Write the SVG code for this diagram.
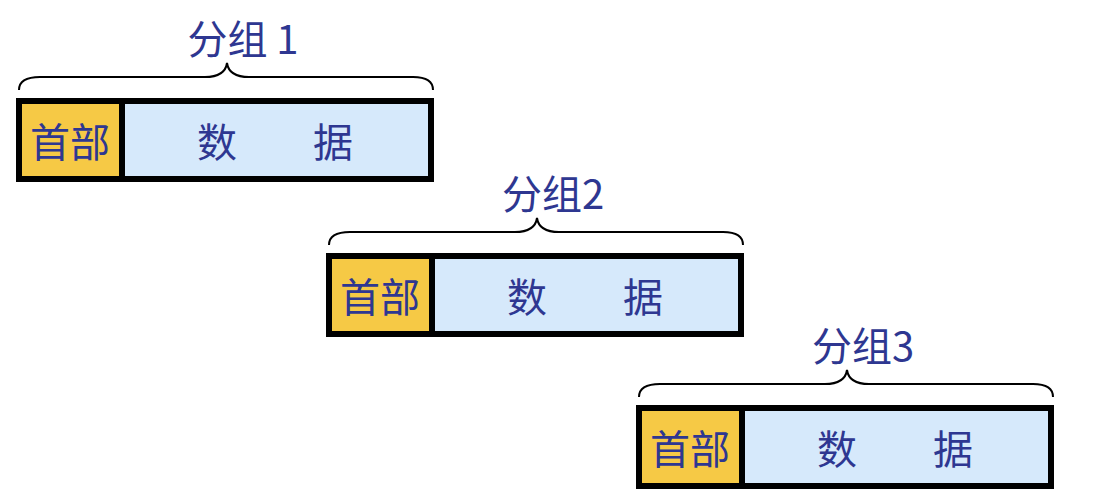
<svg xmlns="http://www.w3.org/2000/svg" width="1106" height="498" viewBox="0 0 1106 498">
<style>
.box{stroke:#000;stroke-width:6}
.hd{fill:#F6C945}
.dt{fill:#D6E9FB}
.brace{fill:none;stroke:#000;stroke-width:2}
text{font-family:"Noto Sans CJK SC","Liberation Sans",sans-serif;fill:#2E3791;font-size:40px;text-anchor:middle}
</style>
<rect width="1106" height="498" fill="#fff"/>
<g id="packet1">
<rect class="dt box" x="19" y="101" width="412" height="78"/>
<rect class="hd box" x="19" y="101" width="103" height="78"/>
<text x="70" y="157">首部</text>
<text x="217" y="157">数</text>
<text x="333" y="157">据</text>
</g>
<g id="brace1">
<path class="brace" d="M19,90 Q19,77 40,77 L205,77 Q225,77 227,63 Q229,77 249,77 L413,77 Q433,77 433,90"/>
<text x="243" y="54">分组 1</text>
</g>
<g id="packet2">
<rect class="dt box" x="329" y="256" width="412" height="78"/>
<rect class="hd box" x="329" y="256" width="103" height="78"/>
<text x="380" y="312">首部</text>
<text x="527" y="312">数</text>
<text x="643" y="312">据</text>
</g>
<g id="brace2">
<path class="brace" d="M329,245 Q329,232 350,232 L515,232 Q535,232 537,218 Q539,232 559,232 L723,232 Q743,232 743,245"/>
<text x="553" y="209">分组2</text>
</g>
<g id="packet3">
<rect class="dt box" x="639" y="408" width="412" height="78"/>
<rect class="hd box" x="639" y="408" width="103" height="78"/>
<text x="690" y="464">首部</text>
<text x="837" y="464">数</text>
<text x="953" y="464">据</text>
</g>
<g id="brace3">
<path class="brace" d="M639,397 Q639,384 660,384 L825,384 Q845,384 847,370 Q849,384 869,384 L1033,384 Q1053,384 1053,397"/>
<text x="863" y="361">分组3</text>
</g>
<g id="connectors"></g>
</svg>
